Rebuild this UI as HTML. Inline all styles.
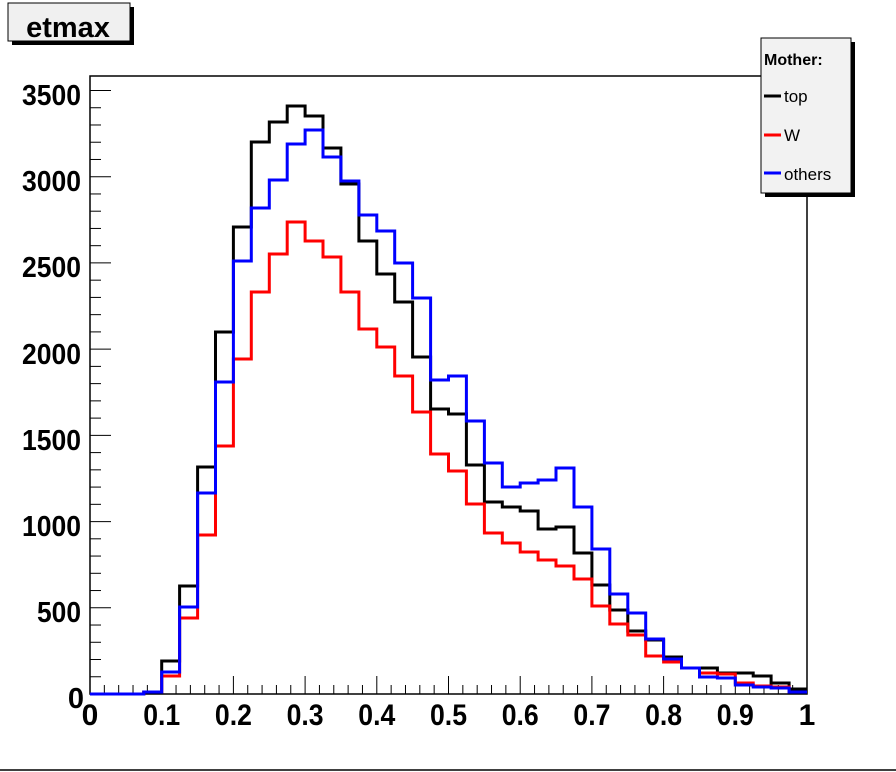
<!DOCTYPE html>
<html><head><meta charset="utf-8"><style>
html,body{margin:0;padding:0;background:#fff;}
svg{display:block;}
text{font-family:"Liberation Sans",Arial,sans-serif;}
</style></head><body>
<svg id="s" width="896" height="772" xmlns="http://www.w3.org/2000/svg">
<rect x="0" y="0" width="896" height="772" fill="#fff"/>
<rect x="12" y="7" width="122" height="38" fill="#000"/>
<rect x="8" y="3" width="122" height="38" fill="#f0f0f0" stroke="#000" stroke-width="1"/>
<text x="68" y="37" font-size="29" font-weight="bold" text-anchor="middle">etmax</text>
<rect x="90" y="76" width="717" height="618" fill="none" stroke="#000" stroke-width="1.5"/>
<g id="ticks" stroke="#000" stroke-width="1"></g>
<g id="hists" fill="none" stroke-width="3"></g>
<g font-size="29" font-weight="bold" text-anchor="end" lengthAdjust="spacingAndGlyphs">
<text x="81" y="105" textLength="59" lengthAdjust="spacingAndGlyphs">3500</text>
<text x="81" y="191" textLength="59" lengthAdjust="spacingAndGlyphs">3000</text>
<text x="81" y="277" textLength="59" lengthAdjust="spacingAndGlyphs">2500</text>
<text x="81" y="364" textLength="59" lengthAdjust="spacingAndGlyphs">2000</text>
<text x="81" y="450" textLength="59" lengthAdjust="spacingAndGlyphs">1500</text>
<text x="81" y="536" textLength="59" lengthAdjust="spacingAndGlyphs">1000</text>
<text x="81" y="622" textLength="44" lengthAdjust="spacingAndGlyphs">500</text>
<text x="84" y="708">0</text>
</g>
<g font-size="30" font-weight="bold" text-anchor="middle">
<text x="90" y="725">0</text>
<text x="161.7" y="725" textLength="37" lengthAdjust="spacingAndGlyphs">0.1</text>
<text x="233.4" y="725" textLength="37" lengthAdjust="spacingAndGlyphs">0.2</text>
<text x="305.1" y="725" textLength="37" lengthAdjust="spacingAndGlyphs">0.3</text>
<text x="376.8" y="725" textLength="37" lengthAdjust="spacingAndGlyphs">0.4</text>
<text x="448.5" y="725" textLength="37" lengthAdjust="spacingAndGlyphs">0.5</text>
<text x="520.2" y="725" textLength="37" lengthAdjust="spacingAndGlyphs">0.6</text>
<text x="591.9" y="725" textLength="37" lengthAdjust="spacingAndGlyphs">0.7</text>
<text x="663.6" y="725" textLength="37" lengthAdjust="spacingAndGlyphs">0.8</text>
<text x="735.3" y="725" textLength="37" lengthAdjust="spacingAndGlyphs">0.9</text>
<text x="807" y="725">1</text>
</g>
<rect x="765" y="42" width="90" height="155" fill="#000"/>
<rect x="761" y="38" width="90" height="155" fill="#f2f2f2" stroke="#000" stroke-width="1"/>
<text x="764" y="65" font-size="16" font-weight="bold">Mother:</text>
<line x1="764" y1="96" x2="781" y2="96" stroke="#000" stroke-width="3"/>
<text x="784" y="102" font-size="17">top</text>
<line x1="764" y1="135" x2="781" y2="135" stroke="#f00" stroke-width="3"/>
<text x="784" y="141" font-size="17">W</text>
<line x1="764" y1="173" x2="781" y2="173" stroke="#00f" stroke-width="3"/>
<text x="784" y="180" font-size="17">others</text>
<line x1="0" y1="770" x2="896" y2="770" stroke="#000" stroke-width="1.5"/>
</svg>
<script>
var NS="http://www.w3.org/2000/svg";
var t=document.getElementById("ticks");
function ln(x1,y1,x2,y2){var l=document.createElementNS(NS,"line");l.setAttribute("x1",x1);l.setAttribute("y1",y1);l.setAttribute("x2",x2);l.setAttribute("y2",y2);t.appendChild(l);}
for(var i=0;i<=50;i++){var x=90+717*i/50;ln(x,694,x,694-(i%5==0?18:9));}
for(var v=0;v<=3500;v+=100){var y=694-v*0.17243;ln(90,y,90+(v%500==0?21:11),y);}
var E=[];for(var i=0;i<=40;i++)E.push(90+717*i/40);
var data={
"#000":[694,694,694,692,661,586,467,332,227,142,122,106,116,148,184,241,274,302,357,409,414,465,502,507,511,529,527,553,585,610,631,640,657,668,668,673,673,676,683,689],
"#f00":[694,694,694,692,676,618,535,446,359,292,254,222,241,257,292,329,347,376,412,454,471,504,533,543,552,560,566,579,606,624,635,656,662,668,673,674,683,686,687,692],
"#00f":[694,694,694,692,672,607,493,382,261,208,180,144,130,157,181,215,231,263,298,380,376,421,463,487,483,480,468,507,549,594,613,639,659,668,677,678,685,687,688,692]};
var h=document.getElementById("hists");
for(var c in data){var d="M90,694";var a=data[c];for(var i=0;i<40;i++){d+=" V"+a[i]+" H"+E[i+1].toFixed(1);}
var p=document.createElementNS(NS,"path");p.setAttribute("d",d);p.setAttribute("stroke",c);h.appendChild(p);}
</script>
</body></html>
